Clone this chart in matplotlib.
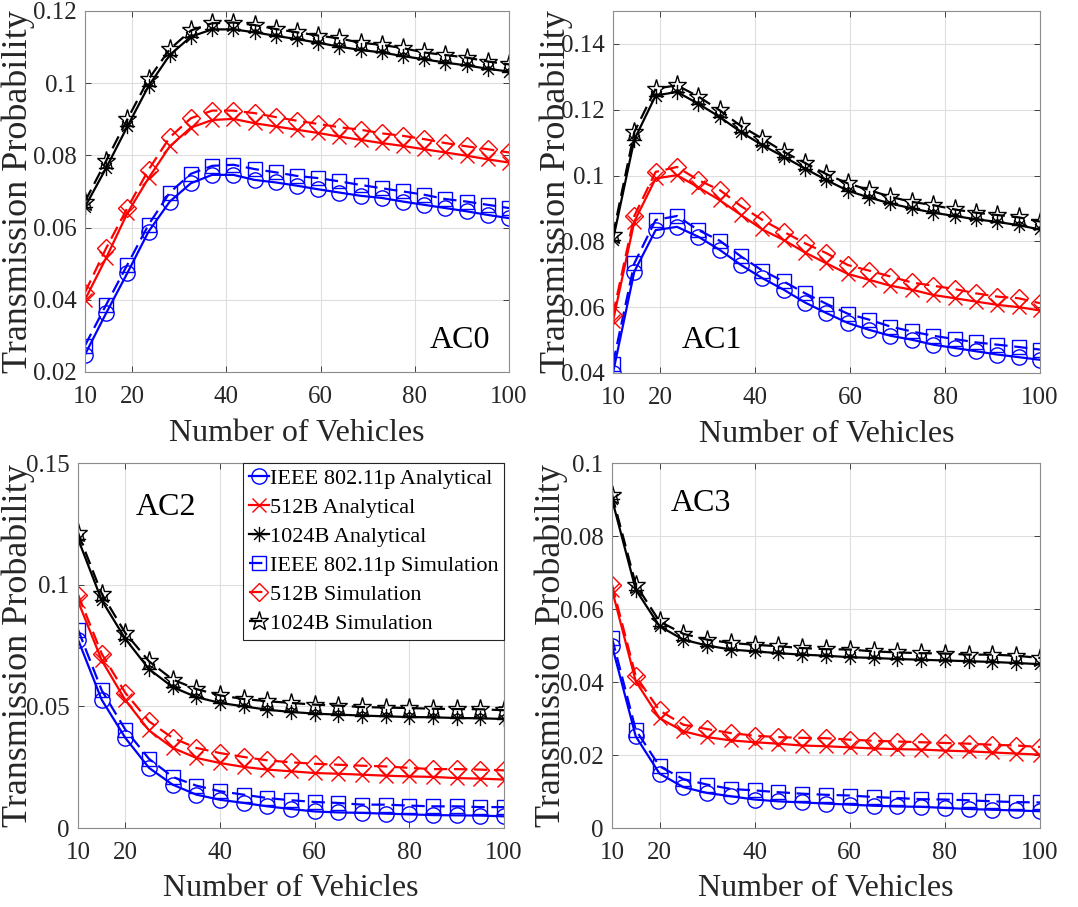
import numpy as np
import matplotlib
matplotlib.use("Agg")
import matplotlib.pyplot as plt
from matplotlib.path import Path

plt.rcParams['font.family'] = ['Liberation Serif', 'DejaVu Serif']
plt.rcParams['mathtext.fontset'] = 'stix'

# x grids: top row sampled every 4.5 vehicles, bottom row every 5
x_top = [10, 14.5, 19, 23.5, 28, 32.5, 37, 41.5, 46, 50.5, 55, 59.5, 64, 68.5, 73, 77.5, 82, 86.5, 91, 95.5, 100]
x_bot = [10, 15, 20, 25, 30, 35, 40, 45, 50, 55, 60, 65, 70, 75, 80, 85, 90, 95, 100]

# AC0
ac0_ieee_ana = [0.0248, 0.0363, 0.0474, 0.0589, 0.0672, 0.0723, 0.0746, 0.0746, 0.0732, 0.0725, 0.0716,
                0.0706, 0.0697, 0.0688, 0.0682, 0.0672, 0.0663, 0.0654, 0.0645, 0.0635, 0.0626]
ac0_512_ana = [0.0400, 0.0516, 0.0640, 0.0737, 0.0825, 0.0877, 0.0898, 0.0901, 0.0889, 0.0880, 0.0871,
               0.0862, 0.0852, 0.0843, 0.0834, 0.0826, 0.0817, 0.0808, 0.0799, 0.0789, 0.0780]
ac0_1024_ana = [0.0657, 0.0765, 0.0880, 0.0992, 0.1078, 0.1129, 0.1149, 0.1149, 0.1141, 0.1131, 0.1122,
                0.1112, 0.1101, 0.1092, 0.1085, 0.1075, 0.1066, 0.1057, 0.1049, 0.1040, 0.1032]
ac0_ieee_sim = [0.0273, 0.0386, 0.0497, 0.0608, 0.0697, 0.0749, 0.0771, 0.0774, 0.0762, 0.0753, 0.0743,
                0.0737, 0.0728, 0.0718, 0.0709, 0.0700, 0.0691, 0.0679, 0.0672, 0.0663, 0.0654]
ac0_512_sim = [0.0420, 0.0543, 0.0654, 0.0760, 0.0850, 0.0903, 0.0924, 0.0924, 0.0917, 0.0906, 0.0896,
               0.0887, 0.0878, 0.0871, 0.0861, 0.0854, 0.0845, 0.0834, 0.0825, 0.0817, 0.0808]
ac0_1024_sim = [0.0672, 0.0785, 0.0900, 0.1011, 0.1094, 0.1146, 0.1166, 0.1168, 0.1161, 0.1150, 0.1141,
                0.1132, 0.1124, 0.1112, 0.1106, 0.1097, 0.1085, 0.1078, 0.1071, 0.1060, 0.1052]

# AC1
ac1_ieee_ana = [0.0400, 0.0708, 0.0834, 0.0844, 0.0814, 0.0774, 0.0728, 0.0688, 0.0653, 0.0614, 0.0582,
                0.0552, 0.0531, 0.0513, 0.0501, 0.0486, 0.0476, 0.0466, 0.0456, 0.0448, 0.0440]
ac1_512_ana = [0.0557, 0.0860, 0.0991, 0.1001, 0.0964, 0.0925, 0.0880, 0.0836, 0.0804, 0.0766, 0.0733,
               0.0701, 0.0683, 0.0665, 0.0653, 0.0637, 0.0627, 0.0617, 0.0607, 0.0600, 0.0590]
ac1_1024_ana = [0.0804, 0.1109, 0.1243, 0.1254, 0.1218, 0.1178, 0.1132, 0.1092, 0.1057, 0.1021, 0.0986,
                0.0954, 0.0933, 0.0915, 0.0900, 0.0887, 0.0877, 0.0867, 0.0859, 0.0849, 0.0836]
ac1_ieee_sim = [0.0428, 0.0733, 0.0865, 0.0877, 0.0834, 0.0802, 0.0754, 0.0711, 0.0678, 0.0642, 0.0610,
                0.0580, 0.0562, 0.0541, 0.0526, 0.0513, 0.0503, 0.0493, 0.0486, 0.0479, 0.0471]
ac1_512_sim = [0.0577, 0.0877, 0.1011, 0.1026, 0.0986, 0.0956, 0.0907, 0.0865, 0.0829, 0.0794, 0.0764,
               0.0728, 0.0711, 0.0693, 0.0675, 0.0665, 0.0655, 0.0642, 0.0632, 0.0627, 0.0612]
ac1_1024_sim = [0.0819, 0.1132, 0.1264, 0.1274, 0.1240, 0.1198, 0.1150, 0.1112, 0.1072, 0.1038, 0.1004,
                0.0976, 0.0956, 0.0935, 0.0920, 0.0910, 0.0897, 0.0887, 0.0880, 0.0873, 0.0860]

# AC2
ac2_ieee_ana = [0.0774, 0.0527, 0.0370, 0.0247, 0.0178, 0.0137, 0.0116, 0.0103, 0.0089, 0.0078,
                0.0068, 0.0064, 0.0062, 0.0059, 0.0056, 0.0053, 0.0052, 0.0051, 0.0048]
ac2_512_ana = [0.0932, 0.0689, 0.0525, 0.0401, 0.0329, 0.0288, 0.0267, 0.0251, 0.0240, 0.0233,
               0.0226, 0.0223, 0.0219, 0.0215, 0.0212, 0.0210, 0.0205, 0.0203, 0.0199]
ac2_1024_ana = [0.1188, 0.0936, 0.0777, 0.0653, 0.0579, 0.0538, 0.0514, 0.0500, 0.0486, 0.0477,
                0.0470, 0.0466, 0.0462, 0.0459, 0.0456, 0.0455, 0.0452, 0.0451, 0.0448]
ac2_ieee_sim = [0.0815, 0.0566, 0.0404, 0.0284, 0.0210, 0.0174, 0.0151, 0.0137, 0.0123, 0.0114,
                0.0107, 0.0103, 0.0096, 0.0096, 0.0092, 0.0089, 0.0089, 0.0086, 0.0086]
ac2_512_sim = [0.0959, 0.0716, 0.0555, 0.0438, 0.0370, 0.0329, 0.0308, 0.0292, 0.0278, 0.0270,
               0.0264, 0.0260, 0.0256, 0.0253, 0.0247, 0.0242, 0.0242, 0.0240, 0.0237]
ac2_1024_sim = [0.1212, 0.0963, 0.0801, 0.0685, 0.0610, 0.0571, 0.0545, 0.0530, 0.0521, 0.0514,
                0.0507, 0.0503, 0.0497, 0.0495, 0.0493, 0.0490, 0.0489, 0.0488, 0.0484]

# AC3
ac3_ieee_ana = [0.0500, 0.0251, 0.0149, 0.0112, 0.0096, 0.0087, 0.0078, 0.0073, 0.0070, 0.0067,
                0.0064, 0.0061, 0.0059, 0.0058, 0.0055, 0.0052, 0.0050, 0.0048, 0.0046]
ac3_512_ana = [0.0653, 0.0402, 0.0301, 0.0265, 0.0249, 0.0240, 0.0235, 0.0231, 0.0226, 0.0224,
               0.0221, 0.0218, 0.0216, 0.0215, 0.0212, 0.0210, 0.0207, 0.0204, 0.0201]
ac3_1024_ana = [0.0901, 0.0653, 0.0553, 0.0516, 0.0500, 0.0489, 0.0484, 0.0479, 0.0475, 0.0472,
                0.0468, 0.0466, 0.0463, 0.0461, 0.0459, 0.0457, 0.0455, 0.0452, 0.0449]
ac3_ieee_sim = [0.0521, 0.0269, 0.0169, 0.0134, 0.0119, 0.0107, 0.0103, 0.0098, 0.0094, 0.0091,
                0.0089, 0.0085, 0.0082, 0.0079, 0.0078, 0.0076, 0.0073, 0.0071, 0.0070]
ac3_512_sim = [0.0667, 0.0416, 0.0322, 0.0283, 0.0271, 0.0260, 0.0253, 0.0249, 0.0247, 0.0246,
               0.0242, 0.0239, 0.0237, 0.0235, 0.0233, 0.0231, 0.0228, 0.0226, 0.0222]
ac3_1024_sim = [0.0913, 0.0667, 0.0566, 0.0532, 0.0516, 0.0507, 0.0502, 0.0498, 0.0493, 0.0490,
                0.0489, 0.0484, 0.0481, 0.0479, 0.0478, 0.0475, 0.0475, 0.0472, 0.0466]

labels = ['IEEE 802.11p Analytical', '512B Analytical', '1024B Analytical',
          'IEEE 802.11p Simulation', '512B Simulation', '1024B Simulation']

# eight-armed asterisk like MATLAB's '*'
s = 0.7071
asterisk = Path([(-1, 0), (1, 0), (0, -1), (0, 1), (-s, -s), (s, s), (-s, s), (s, -s)],
                [Path.MOVETO, Path.LINETO] * 4)

blue, red, black = '#0000ff', '#ff0000', '#000000'
styles = [
    dict(color=blue, ls='-', marker='o', ms=11),
    dict(color=red, ls='-', marker='x', ms=10),
    dict(color=black, ls='-', marker=asterisk, ms=11),
    dict(color=blue, ls=(0, (6, 3)), marker='s', ms=10),
    dict(color=red, ls=(0, (6, 3)), marker='D', ms=9),
    dict(color=black, ls=(0, (6, 3)), marker='*', ms=14),
]

panels = [
    dict(rect=[0.0788, 0.5899, 0.3934, 0.3980], x=x_top, ylim=(0.02, 0.12),
         yticks=[0.02, 0.04, 0.06, 0.08, 0.1, 0.12], ylab=['0.02', '0.04', '0.06', '0.08', '0.1', '0.12'],
         series=[ac0_ieee_ana, ac0_512_ana, ac0_1024_ana, ac0_ieee_sim, ac0_512_sim, ac0_1024_sim],
         name='AC0', tpos=(0.885, 0.086), ylx=-0.118, xly=-0.13),
    dict(rect=[0.5686, 0.5888, 0.3961, 0.3991], x=x_top, ylim=(0.04, 0.15),
         yticks=[0.04, 0.06, 0.08, 0.1, 0.12, 0.14], ylab=['0.04', '0.06', '0.08', '0.1', '0.12', '0.14'],
         series=[ac1_ieee_ana, ac1_512_ana, ac1_1024_ana, ac1_ieee_sim, ac1_512_sim, ac1_1024_sim],
         name='AC1', tpos=(0.232, 0.091), ylx=-0.094, xly=-0.13),
    dict(rect=[0.0724, 0.0871, 0.3952, 0.4024], x=x_bot, ylim=(0, 0.15),
         yticks=[0, 0.05, 0.1, 0.15], ylab=['0', '0.05', '0.1', '0.15'],
         series=[ac2_ieee_ana, ac2_512_ana, ac2_1024_ana, ac2_ieee_sim, ac2_512_sim, ac2_1024_sim],
         name='AC2', tpos=(0.207, 0.877), ylx=-0.101, xly=-0.127),
    dict(rect=[0.5677, 0.0871, 0.3970, 0.4024], x=x_bot, ylim=(0, 0.1),
         yticks=[0, 0.02, 0.04, 0.06, 0.08, 0.1], ylab=['0', '0.02', '0.04', '0.06', '0.08', '0.1'],
         series=[ac3_ieee_ana, ac3_512_ana, ac3_1024_ana, ac3_ieee_sim, ac3_512_sim, ac3_1024_sim],
         name='AC3', tpos=(0.208, 0.890), ylx=-0.103, xly=-0.127),
]

fig = plt.figure(figsize=(10.78, 9.07), dpi=100)

for i, p in enumerate(panels):
    ax = fig.add_axes(p['rect'])
    handles = []
    for y, st in zip(p['series'], styles):
        h, = ax.plot(p['x'], y, color=st['color'], ls=st['ls'], lw=1.6,
                     marker=st['marker'], ms=st['ms'], mfc='none', mec=st['color'], mew=1.0)
        handles.append(h)
    ax.set_xlim(10, 100)
    ax.set_ylim(*p['ylim'])
    ax.set_xticks([10, 20, 40, 60, 80, 100])
    ax.set_xticklabels(['10', '20', '40', '60', '80', '100'])
    ax.set_yticks(p['yticks'])
    ax.set_yticklabels(p['ylab'])
    ax.tick_params(direction='in', length=4, width=0.6, labelsize=18, colors='#262626',
                   top=True, right=True, pad=6)
    ax.tick_params(axis='x', pad=10)
    ax.grid(True, color='#dedede', lw=0.8)
    ax.set_axisbelow(True)
    for sp in ax.spines.values():
        sp.set_color('#8c8c8c')
        sp.set_linewidth(0.8)
    ax.set_xlabel('Number of Vehicles', fontsize=23, color='#262626')
    ax.set_ylabel('Transmission Probability', fontsize=26, color='#262626')
    ax.xaxis.set_label_coords(0.5, p['xly'])
    ax.yaxis.set_label_coords(p['ylx'], 0.5)
    ax.text(p['tpos'][0], p['tpos'][1], p['name'], transform=ax.transAxes,
            ha='center', va='center', fontsize=23, color='#000000')
    if i == 2:
        leg = ax.legend(handles, labels, loc='upper right', fontsize=16, handlelength=0.9,
                        handletextpad=0.05, borderpad=0.25, labelspacing=0.38,
                        fancybox=False, framealpha=1, edgecolor='#262626', borderaxespad=0)
        leg.get_frame().set_linewidth(0.8)

fig.savefig('out.png', dpi=100)
